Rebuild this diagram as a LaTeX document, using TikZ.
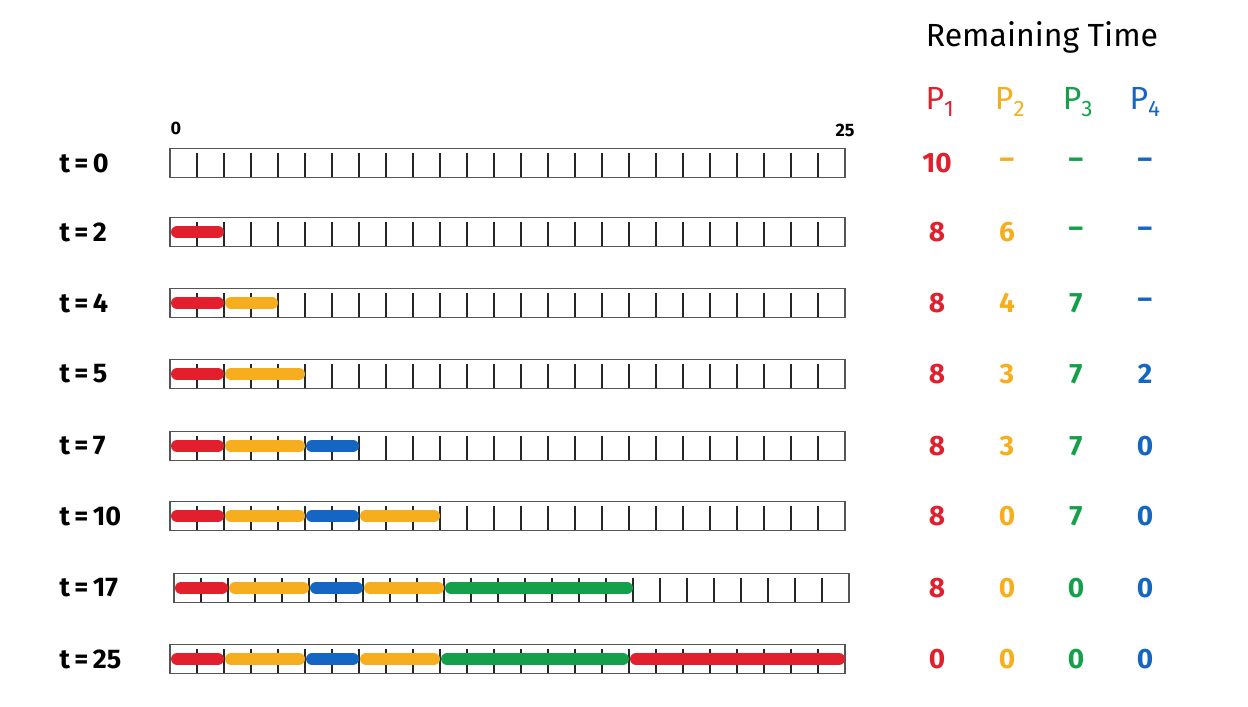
\documentclass[tikz,border=0pt]{standalone}
\usepackage{fontspec}
\setmainfont{Fira Sans}
\definecolor{pred}{HTML}{E21F2D}
\definecolor{porange}{HTML}{F6AE1E}
\definecolor{pgreen}{HTML}{14A04A}
\definecolor{pblue}{HTML}{1466C2}
\definecolor{barline}{HTML}{555555}
\begin{document}
\begin{tikzpicture}[x=1pt,y=-1pt,
  barbox/.style={draw=barline,line width=1.5pt},
  tickline/.style={draw=black!85,line width=1.2pt},
  stroke/.style={line width=12pt,line cap=round},
  rowlabel/.style={anchor=west,font=\fontsize{27}{27}\selectfont\bfseries},
  val/.style={font=\fontsize{28}{28}\selectfont\bfseries},
  hdr/.style={font=\fontsize{32}{32}\selectfont},
  scalelab/.style={font=\fontsize{18}{18}\selectfont\bfseries}]
\useasboundingbox (0,0) rectangle (1248,707);
% bars
\foreach \r/\y/\dx in {0/163/0,2/232/0,4/303/0,5/374/0,7/446/0,10/516/0,17/588/4,25/659/0}{
  \node[rowlabel] (lab\r) at (56,\y) {t\,=\,\r};
  \draw[barbox] (170+\dx,\y-14.5) rectangle (845+\dx,\y+14.5);
  \foreach \k in {1,...,24}
    \draw[tickline] (170+\dx+27*\k,\y-10) -- (170+\dx+27*\k,\y+13.5);
}
\node[scalelab] (zero) at (176,128) {0};
\node[scalelab] (tf) at (845,130) {25};
% segments
\newcommand\seg[5]{\draw[stroke,#5] (170+#1+27*#3+7,#2) -- (170+#1+27*#4-6,#2);}
\seg{0}{232}{0}{2}{pred}
\seg{0}{303}{0}{2}{pred}\seg{0}{303}{2}{4}{porange}
\seg{0}{374}{0}{2}{pred}\seg{0}{374}{2}{5}{porange}
\seg{0}{446}{0}{2}{pred}\seg{0}{446}{2}{5}{porange}\seg{0}{446}{5}{7}{pblue}
\seg{0}{516}{0}{2}{pred}\seg{0}{516}{2}{5}{porange}\seg{0}{516}{5}{7}{pblue}\seg{0}{516}{7}{10}{porange}
\seg{4}{588}{0}{2}{pred}\seg{4}{588}{2}{5}{porange}\seg{4}{588}{5}{7}{pblue}\seg{4}{588}{7}{10}{porange}\seg{4}{588}{10}{17}{pgreen}
\seg{0}{659}{0}{2}{pred}\seg{0}{659}{2}{5}{porange}\seg{0}{659}{5}{7}{pblue}\seg{0}{659}{7}{10}{porange}\seg{0}{659}{10}{17}{pgreen}\seg{0}{659}{17}{25}{pred}
% remaining time table
\node[hdr] (title) at (1042,37) {Remaining Time};
\node[hdr,text=pred] (h1) at (940,102) {P\textsubscript{1}};
\node[hdr,text=porange] (h2) at (1010,102) {P\textsubscript{2}};
\node[hdr,text=pgreen] (h3) at (1078,102) {P\textsubscript{3}};
\node[hdr,text=pblue] (h4) at (1145,102) {P\textsubscript{4}};
\foreach \y/\a/\b/\c/\d [count=\n] in {163/10/--/--/--,232/8/6/--/--,303/8/4/7/--,374/8/3/7/2,446/8/3/7/0,516/8/0/7/0,588/8/0/0/0,659/0/0/0/0}{
  \node[val,text=pred] (v\n a) at (937,\y) {\a};
  \node[val,text=porange] (v\n b) at (1007,\y) {\b};
  \node[val,text=pgreen] (v\n c) at (1076,\y) {\c};
  \node[val,text=pblue] (v\n d) at (1145,\y) {\d};
}
\end{tikzpicture}
\end{document}
